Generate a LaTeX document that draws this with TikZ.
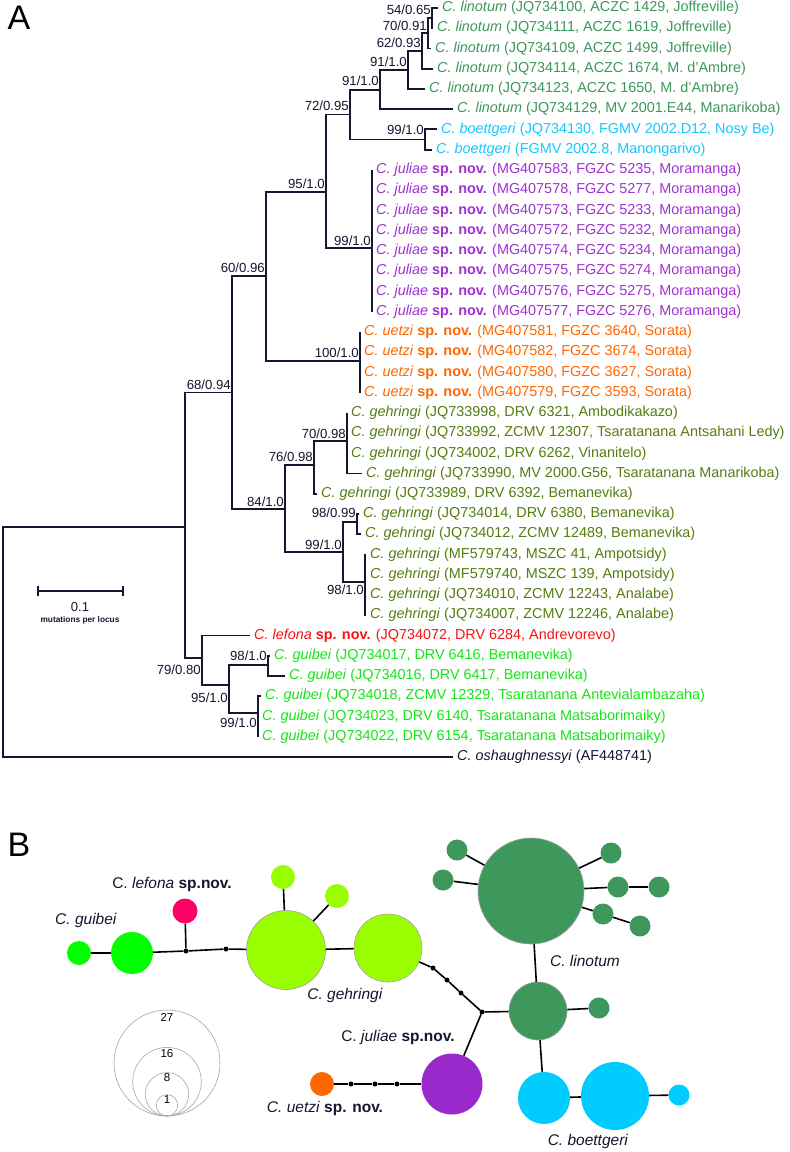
\documentclass[tikz,border=0pt]{standalone}
\usepackage{fontspec}
\setmainfont{Liberation Sans}
\usetikzlibrary{backgrounds}
\definecolor{cTree}{RGB}{22,22,48}
\definecolor{cLin}{RGB}{60,152,92}
\definecolor{cBoe}{RGB}{20,200,255}
\definecolor{cJul}{RGB}{160,50,210}
\definecolor{cUet}{RGB}{255,102,0}
\definecolor{cGeh}{RGB}{85,125,15}
\definecolor{cLef}{RGB}{245,20,20}
\definecolor{cGui}{RGB}{20,230,20}
\definecolor{nLin}{RGB}{62,152,92}
\definecolor{nBoe}{RGB}{0,204,255}
\definecolor{nJul}{RGB}{155,42,204}
\definecolor{nUet}{RGB}{255,102,0}
\definecolor{nGeh}{RGB}{153,255,0}
\definecolor{nLef}{RGB}{255,0,102}
\definecolor{nGui}{RGB}{0,255,0}
\newcommand{\spLin}{\textit{C. linotum}}
\newcommand{\spBoe}{\textit{C. boettgeri}}
\newcommand{\spJul}{\textit{C. juliae} \textbf{sp. nov.}}
\newcommand{\spUet}{\textit{C. uetzi} \textbf{sp. nov.}}
\newcommand{\spGeh}{\textit{C. gehringi}}
\newcommand{\spGui}{\textit{C. guibei}}
\begin{document}
\begin{tikzpicture}[x=1pt,y=-1pt,
  tree/.style={line width=1.9pt, draw=cTree},
  leaf/.style={anchor=west, inner sep=0pt, xshift=4pt, font=\fontsize{14.4}{16}\selectfont},
  sup/.style={anchor=east, inner sep=0pt, text=cTree, font=\fontsize{13.2}{14}\selectfont},
  hap/.style={circle, inner sep=0pt, draw=none},
  hapo/.style={circle, inner sep=0pt, draw=gray!75, line width=0.6pt},
  dotn/.style={circle, inner sep=0pt, fill=black, minimum size=5pt},
  net/.style={line width=1.6pt, draw=black},
  netlab/.style={text=cTree, inner sep=0pt, font=\fontsize{15.5}{17}\selectfont},
  legc/.style={circle, inner sep=0pt, draw=gray!70, line width=0.6pt},
  legt/.style={inner sep=0pt, font=\fontsize{11.5}{13}\selectfont}]
\useasboundingbox (0,0) rectangle (790,1152);
\fill[white] (0,0) rectangle (790,1152);

% panel letters
\node[inner sep=0pt, font=\fontsize{34}{34}\selectfont] (lblA) at (19,18) {A};
\node[inner sep=0pt, font=\fontsize{34}{34}\selectfont] (lblB) at (19,845) {B};

% ---------------- tree: internal nodes
\coordinate (Root) at (3,642);
\coordinate (X) at (185,527);
\coordinate (M) at (232,392.5);
\coordinate (K) at (266,276);
\coordinate (H) at (326,192);
\coordinate (A) at (350,114.5);
\coordinate (B) at (380,89.6);
\coordinate (C) at (408,70);
\coordinate (D) at (422,51);
\coordinate (E) at (428,33);
\coordinate (F) at (432,18);
\coordinate (G) at (425,139.5);
\coordinate (J) at (372,248);
\coordinate (U) at (360,361);
\coordinate (N) at (285,509);
\coordinate (P) at (314,465);
\coordinate (Q) at (347,441);
\coordinate (R) at (343,552);
\coordinate (S) at (357,522);
\coordinate (T) at (365,582);
\coordinate (W) at (202,658);
\coordinate (V) at (229,685);
\coordinate (Y) at (268,665);
\coordinate (Z) at (258,713);

% leaves
\coordinate (L1) at (438,8);
\coordinate (L2) at (433,28.24);
\coordinate (L3) at (431,48.48);
\coordinate (L4) at (433,68.72);
\coordinate (L5) at (425,88.96);
\coordinate (L6) at (453,109.2);
\coordinate (L7) at (437,129.44);
\coordinate (L8) at (432,149.68);
\coordinate (L9) at (372,169.92);
\coordinate (L10) at (372,190.16);
\coordinate (L11) at (372,210.4);
\coordinate (L12) at (372,230.64);
\coordinate (L13) at (372,250.88);
\coordinate (L14) at (372,271.12);
\coordinate (L15) at (372,291.36);
\coordinate (L16) at (372,311.6);
\coordinate (L17) at (360,331.84);
\coordinate (L18) at (360,352.08);
\coordinate (L19) at (360,372.32);
\coordinate (L20) at (360,392.56);
\coordinate (L21) at (347,412.8);
\coordinate (L22) at (347,433.04);
\coordinate (L23) at (347,453.28);
\coordinate (L24) at (362,473.52);
\coordinate (L25) at (317,493.76);
\coordinate (L26) at (359,514);
\coordinate (L27) at (361,534.24);
\coordinate (L28) at (366,554.48);
\coordinate (L29) at (366,574.72);
\coordinate (L30) at (366,594.96);
\coordinate (L31) at (366,615.2);
\coordinate (L32) at (250,635.44);
\coordinate (L33) at (270,655.68);
\coordinate (L34) at (285,675.92);
\coordinate (L35) at (261,696.16);
\coordinate (L36) at (258,716.4);
\coordinate (L37) at (258,736.64);
\coordinate (L38) at (453,756.88);

% branches
\draw[tree] (Root) |- (X); \draw[tree] (Root) |- (L38);
\draw[tree] (X) |- (M); \draw[tree] (X) |- (W);
\draw[tree] (M) |- (K); \draw[tree] (M) |- (N);
\draw[tree] (K) |- (H); \draw[tree] (K) |- (U);
\draw[tree] (H) |- (A); \draw[tree] (H) |- (J);
\draw[tree] (A) |- (B); \draw[tree] (A) |- (G);
\draw[tree] (B) |- (C); \draw[tree] (B) |- (L6);
\draw[tree] (C) |- (D); \draw[tree] (C) |- (L5);
\draw[tree] (D) |- (E); \draw[tree] (D) |- (L4);
\draw[tree] (E) |- (F); \draw[tree] (E) |- (L3);
\draw[tree] (F) |- (L1); \draw[tree] (F) |- (L2);
\draw[tree] (G) |- (L7); \draw[tree] (G) |- (L8);
\draw[tree] (J) |- (L9); \draw[tree] (J) |- (L16);
\draw[tree] (U) |- (L17); \draw[tree] (U) |- (L20);
\draw[tree] (N) |- (P); \draw[tree] (N) |- (R);
\draw[tree] (P) |- (Q); \draw[tree] (P) |- (L25);
\draw[tree] (Q) |- (L21); \draw[tree] (Q) |- (L24);
\draw[tree] (R) |- (S); \draw[tree] (R) |- (T);
\draw[tree] (S) |- (L26); \draw[tree] (S) |- (L27);
\draw[tree] (T) |- (L28); \draw[tree] (T) |- (L31);
\draw[tree] (W) |- (L32); \draw[tree] (W) |- (V);
\draw[tree] (V) |- (Y); \draw[tree] (V) |- (Z);
\draw[tree] (Y) |- (L33); \draw[tree] (Y) |- (L34);
\draw[tree] (Z) |- (L35); \draw[tree] (Z) |- (L37);

% support values
\node[sup] (s54) at (431,10) {54/0.65};
\node[sup] (s70) at (427,26) {70/0.91};
\node[sup] (s62) at (421,43) {62/0.93};
\node[sup] (s91a) at (407,62) {91/1.0};
\node[sup] (s91b) at (379,81) {91/1.0};
\node[sup] (s72) at (349,106) {72/0.95};
\node[sup] (s99a) at (424,130) {99/1.0};
\node[sup] (s95a) at (325,184) {95/1.0};
\node[sup] (s99b) at (371,241) {99/1.0};
\node[sup] (s60) at (265,268) {60/0.96};
\node[sup] (s100) at (359,353) {100/1.0};
\node[sup] (s68) at (231,385) {68/0.94};
\node[sup] (s70b) at (346,434) {70/0.98};
\node[sup] (s76) at (313,457) {76/0.98};
\node[sup] (s84) at (284,502) {84/1.0};
\node[sup] (s98a) at (356,513) {98/0.99};
\node[sup] (s99c) at (342,545) {99/1.0};
\node[sup] (s98b) at (364,590) {98/1.0};
\node[sup] (s79) at (201,670) {79/0.80};
\node[sup] (s98c) at (267,656) {98/1.0};
\node[sup] (s95b) at (228,698) {95/1.0};
\node[sup] (s99d) at (257,723) {99/1.0};

% leaf labels
\node[leaf,text=cLin] (t1) at (L1) {\spLin{} (JQ734100, ACZC 1429, Joffreville)};
\node[leaf,text=cLin] (t2) at (L2) {\spLin{} (JQ734111, ACZC 1619, Joffreville)};
\node[leaf,text=cLin] (t3) at (L3) {\spLin{} (JQ734109, ACZC 1499, Joffreville)};
\node[leaf,text=cLin] (t4) at (L4) {\spLin{} (JQ734114, ACZC 1674, M. d'Ambre)};
\node[leaf,text=cLin] (t5) at (L5) {\spLin{} (JQ734123, ACZC 1650, M. d'Ambre)};
\node[leaf,text=cLin] (t6) at (L6) {\spLin{} (JQ734129, MV 2001.E44, Manarikoba)};
\node[leaf,text=cBoe] (t7) at (L7) {\spBoe{} (JQ734130, FGMV 2002.D12, Nosy Be)};
\node[leaf,text=cBoe] (t8) at (L8) {\spBoe{} (FGMV 2002.8, Manongarivo)};
\node[leaf,text=cJul] (t9) at (L9) {\spJul{} (MG407583, FGZC 5235, Moramanga)};
\node[leaf,text=cJul] (t10) at (L10) {\spJul{} (MG407578, FGZC 5277, Moramanga)};
\node[leaf,text=cJul] (t11) at (L11) {\spJul{} (MG407573, FGZC 5233, Moramanga)};
\node[leaf,text=cJul] (t12) at (L12) {\spJul{} (MG407572, FGZC 5232, Moramanga)};
\node[leaf,text=cJul] (t13) at (L13) {\spJul{} (MG407574, FGZC 5234, Moramanga)};
\node[leaf,text=cJul] (t14) at (L14) {\spJul{} (MG407575, FGZC 5274, Moramanga)};
\node[leaf,text=cJul] (t15) at (L15) {\spJul{} (MG407576, FGZC 5275, Moramanga)};
\node[leaf,text=cJul] (t16) at (L16) {\spJul{} (MG407577, FGZC 5276, Moramanga)};
\node[leaf,text=cUet] (t17) at (L17) {\spUet{} (MG407581, FGZC 3640, Sorata)};
\node[leaf,text=cUet] (t18) at (L18) {\spUet{} (MG407582, FGZC 3674, Sorata)};
\node[leaf,text=cUet] (t19) at (L19) {\spUet{} (MG407580, FGZC 3627, Sorata)};
\node[leaf,text=cUet] (t20) at (L20) {\spUet{} (MG407579, FGZC 3593, Sorata)};
\node[leaf,text=cGeh] (t21) at (L21) {\spGeh{} (JQ733998, DRV 6321, Ambodikakazo)};
\node[leaf,text=cGeh] (t22) at (L22) {\spGeh{} (JQ733992, ZCMV 12307, Tsaratanana Antsahani Ledy)};
\node[leaf,text=cGeh] (t23) at (L23) {\spGeh{} (JQ734002, DRV 6262, Vinanitelo)};
\node[leaf,text=cGeh] (t24) at (L24) {\spGeh{} (JQ733990, MV 2000.G56, Tsaratanana Manarikoba)};
\node[leaf,text=cGeh] (t25) at (L25) {\spGeh{} (JQ733989, DRV 6392, Bemanevika)};
\node[leaf,text=cGeh] (t26) at (L26) {\spGeh{} (JQ734014, DRV 6380, Bemanevika)};
\node[leaf,text=cGeh] (t27) at (L27) {\spGeh{} (JQ734012, ZCMV 12489, Bemanevika)};
\node[leaf,text=cGeh] (t28) at (L28) {\spGeh{} (MF579743, MSZC 41, Ampotsidy)};
\node[leaf,text=cGeh] (t29) at (L29) {\spGeh{} (MF579740, MSZC 139, Ampotsidy)};
\node[leaf,text=cGeh] (t30) at (L30) {\spGeh{} (JQ734010, ZCMV 12243, Analabe)};
\node[leaf,text=cGeh] (t31) at (L31) {\spGeh{} (JQ734007, ZCMV 12246, Analabe)};
\node[leaf,text=cLef] (t32) at (L32) {\textit{C. lefona} \textbf{sp. nov.} (JQ734072, DRV 6284, Andrevorevo)};
\node[leaf,text=cGui] (t33) at (L33) {\spGui{} (JQ734017, DRV 6416, Bemanevika)};
\node[leaf,text=cGui] (t34) at (L34) {\spGui{} (JQ734016, DRV 6417, Bemanevika)};
\node[leaf,text=cGui] (t35) at (L35) {\spGui{} (JQ734018, ZCMV 12329, Tsaratanana Antevialambazaha)};
\node[leaf,text=cGui] (t36) at (L36) {\spGui{} (JQ734023, DRV 6140, Tsaratanana Matsaborimaiky)};
\node[leaf,text=cGui] (t37) at (L37) {\spGui{} (JQ734022, DRV 6154, Tsaratanana Matsaborimaiky)};
\node[leaf,text=cTree] (t38) at (L38) {\textit{C. oshaughnessyi} (AF448741)};

% scale bar
\coordinate (sb1) at (38,591);
\coordinate (sb2) at (123,591);
\draw[line width=1.6pt, cTree] (sb1) -- (sb2);
\draw[line width=1.6pt, cTree] ([yshift=-5pt]sb1) -- ([yshift=5pt]sb1);
\draw[line width=1.6pt, cTree] ([yshift=-5pt]sb2) -- ([yshift=5pt]sb2);
\node[inner sep=0pt, text=cTree, font=\fontsize{13}{14}\selectfont] (sbt) at (80,607) {0.1};
\node[inner sep=0pt, text=cTree, font=\bfseries\fontsize{8.3}{9}\selectfont] (sbu) at (80,620) {mutations per locus};

% ---------------- network (panel B)
\node[hap, fill=nGui, minimum size=24pt] (gui1) at (79,953) {};
\node[hap, fill=nGui, minimum size=42pt] (gui2) at (132,953) {};
\node[hap, fill=nLef, minimum size=25pt] (lef) at (185,911) {};
\node[dotn] (j1) at (186,951) {};
\node[dotn] (d1) at (226,949) {};
\node[hapo, fill=nGeh, minimum size=79pt] (geh1) at (286,950) {};
\node[hapo, fill=nGeh, minimum size=68pt] (geh2) at (388,948) {};
\node[hap, fill=nGeh, minimum size=24pt] (geh3) at (283,877) {};
\node[hap, fill=nGeh, minimum size=24pt] (geh4) at (337,896) {};
\node[dotn] (e1) at (433,968) {};
\node[dotn] (e2) at (447,980) {};
\node[dotn] (e3) at (461,993) {};
\node[dotn] (j2) at (482,1012) {};
\node[hap, fill=nJul, minimum size=61pt] (jul) at (452,1084) {};
\node[dotn] (u1) at (397,1084) {};
\node[dotn] (u2) at (375,1084) {};
\node[dotn] (u3) at (351,1084) {};
\node[hap, fill=nUet, minimum size=24pt] (uet) at (322,1084) {};
\node[hapo, fill=nLin, minimum size=58pt] (linm) at (538,1011) {};
\node[hap, fill=nLin, minimum size=21pt] (lins) at (599,1008) {};
\node[hapo, fill=nLin, minimum size=106pt] (linb) at (531,891) {};
\node[hap, fill=nLin, minimum size=21pt] (ls1) at (457,850) {};
\node[hap, fill=nLin, minimum size=21pt] (ls2) at (443,880) {};
\node[hap, fill=nLin, minimum size=21pt] (ls3) at (611,853) {};
\node[hap, fill=nLin, minimum size=21pt] (ls4) at (618,887) {};
\node[hap, fill=nLin, minimum size=21pt] (ls5) at (659,887) {};
\node[hap, fill=nLin, minimum size=21pt] (ls6) at (603,914) {};
\node[hap, fill=nLin, minimum size=21pt] (ls7) at (640,926) {};
\node[hap, fill=nBoe, minimum size=52pt] (boe1) at (544,1098) {};
\node[hap, fill=nBoe, minimum size=68pt] (boe2) at (615,1096) {};
\node[hap, fill=nBoe, minimum size=21pt] (boe3) at (679,1095) {};

\draw[net] (gui1) -- (gui2);
\draw[net] (gui2) -- (j1) -- (d1) -- (geh1);
\draw[net] (j1) -- (lef);
\draw[net] (geh1) -- (geh2);
\draw[net] (geh1) -- (geh3);
\draw[net] (geh1) -- (geh4);
\draw[net] (geh2) -- (e1) -- (e2) -- (e3) -- (j2);
\draw[net] (j2) -- (linm);
\draw[net] (j2) -- (jul);
\draw[net] (jul) -- (u1) -- (u2) -- (u3) -- (uet);
\draw[net] (linm) -- (linb);
\draw[net] (linm) -- (lins);
\draw[net] (linm) -- (boe1);
\draw[net] (boe1) -- (boe2);
\draw[net] (boe2) -- (boe3);
\draw[net] (linb) -- (ls1);
\draw[net] (linb) -- (ls2);
\draw[net] (linb) -- (ls3);
\draw[net] (linb) -- (ls4);
\draw[net] (ls4) -- (ls5);
\draw[net] (linb) -- (ls6);
\draw[net] (ls6) -- (ls7);

% network labels
\node[netlab] (nl1) at (172,884) {C. \textit{lefona} \textbf{sp.nov.}};
\node[netlab] (nl2) at (86,920) {\textit{C. guibei}};
\node[netlab] (nl3) at (345,995) {\textit{C. gehringi}};
\node[netlab] (nl4) at (398,1037) {C. \textit{juliae} \textbf{sp.nov.}};
\node[netlab] (nl5) at (325,1108) {\textit{C. uetzi} \textbf{sp. nov.}};
\node[netlab] (nl6) at (585,961) {\textit{C. linotum}};
\node[netlab] (nl7) at (588,1141) {\textit{C. boettgeri}};

% size legend
\node[legc, minimum size=106pt] (lg27) at (167,1063) {};
\node[legc, minimum size=68.6pt] (lg16) at (167,1081.7) {};
\node[legc, minimum size=43.4pt] (lg8) at (167,1094.3) {};
\node[legc, minimum size=21.4pt] (lg1) at (167,1105.3) {};
\node[legt] (lg27t) at (167,1017) {27};
\node[legt] (lg16t) at (167,1054) {16};
\node[legt] (lg8t) at (167,1078) {8};
\node[legt] (lg1t) at (167,1100) {1};
\end{tikzpicture}
\end{document}
